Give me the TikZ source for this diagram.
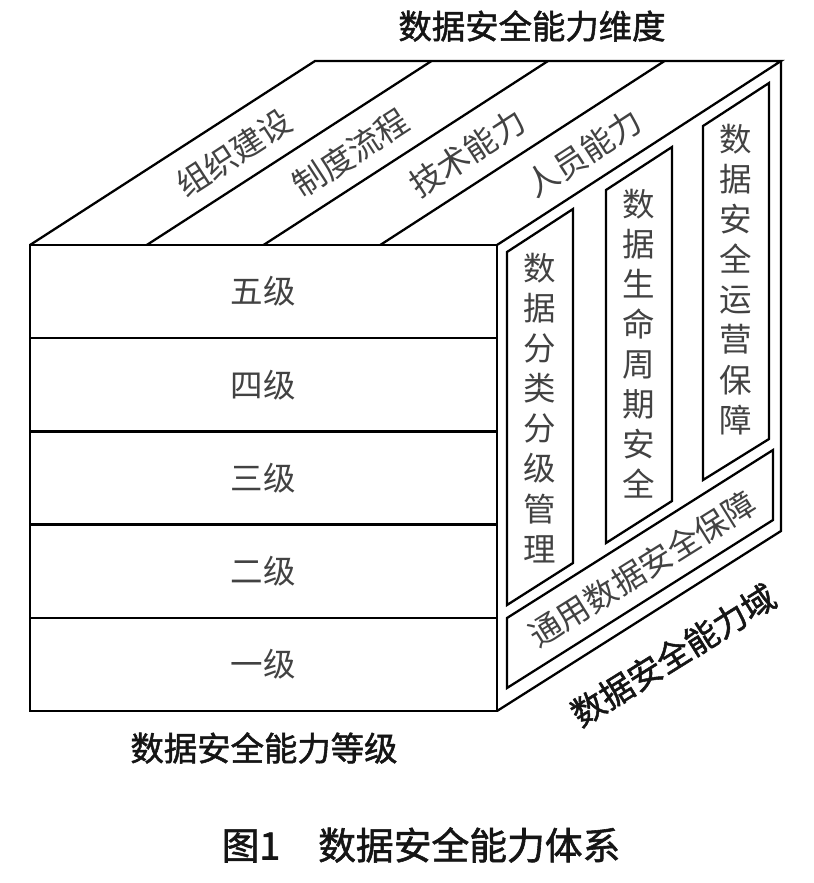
\documentclass[tikz,border=0pt]{standalone}
\usepackage{fontspec}
\setmainfont{Noto Sans CJK SC}
\newfontfamily\titlefont{Noto Sans CJK SC}[FakeBold=1.5]
\usepackage{tikz}
\usetikzlibrary{calc}
\definecolor{ink}{HTML}{151515}
\definecolor{muted}{HTML}{424242}

\begin{document}
\begin{tikzpicture}[x=0.02cm,y=-0.02cm,line width=1.3pt,
  lvl/.style={text=muted,font=\fontsize{18.5}{22}\selectfont},
  dimlabel/.style={text=muted,font=\fontsize{18.5}{22}\selectfont,rotate=33},
  vlabel/.style={text=muted,font=\fontsize{18.5}{22.8}\selectfont,align=center,inner sep=0pt},
  axis/.style={text=ink,font=\fontsize{19}{22}\selectfont\titlefont}]
\useasboundingbox (0,0) rectangle (814,883);

% front face: levels
\draw (30,245) rectangle (497,711);
\foreach \i in {1,...,4} \draw (30,{245+93.2*\i}) -- (497,{245+93.2*\i});
\foreach \i/\t in {0/五级,1/四级,2/三级,3/二级,4/一级}
  \node[lvl] (lvl\i) at (263.5,{291.6+93.2*\i}) {\t};

% top face: dimensions
\draw (30,245) -- (315,61) -- (781,61) -- (497,245);
\foreach \i in {1,2,3} \draw ({30+116.75*\i},245) -- ({315+116.5*\i},61);
\foreach \i/\t in {0/组织建设,1/制度流程,2/技术能力,3/人员能力}
  \node[dimlabel] (dim\i) at ({234+116.6*\i},153) {\t};

% right face: domains
\draw (781,61) -- (781,531) -- (497,711);
\draw (507,252) -- (573,209) -- (573,563) -- (507,605) -- cycle;
\draw (606,190) -- (672,147) -- (672,501) -- (606,543) -- cycle;
\draw (703,126) -- (769,83) -- (769,439) -- (703,480) -- cycle;
\draw (507,618) -- (773,450) -- (773,520) -- (507,688) -- cycle;
\node[vlabel] (cls) at (540,408) {数\\据\\分\\类\\分\\级\\管\\理};
\node[vlabel] (life) at (639,343.5) {数\\据\\生\\命\\周\\期\\安\\全};
\node[vlabel] (ops) at (736,279.5) {数\\据\\安\\全\\运\\营\\保\\障};
\node[dimlabel,rotate=-1] (gen) at (642,569) {通用数据安全保障};

% axis titles
\node[axis] (dimt) at (532,26) {数据安全能力维度};
\node[axis] (lvlt) at (264,748) {数据安全能力等级};
\node[axis,rotate=32] (domt) at (673,655) {数据安全能力域};
\node[text=ink,font=\fontsize{21.5}{24}\selectfont\titlefont] (cap) at (421,845) {图1\quad 数据安全能力体系};
\end{tikzpicture}
\end{document}
